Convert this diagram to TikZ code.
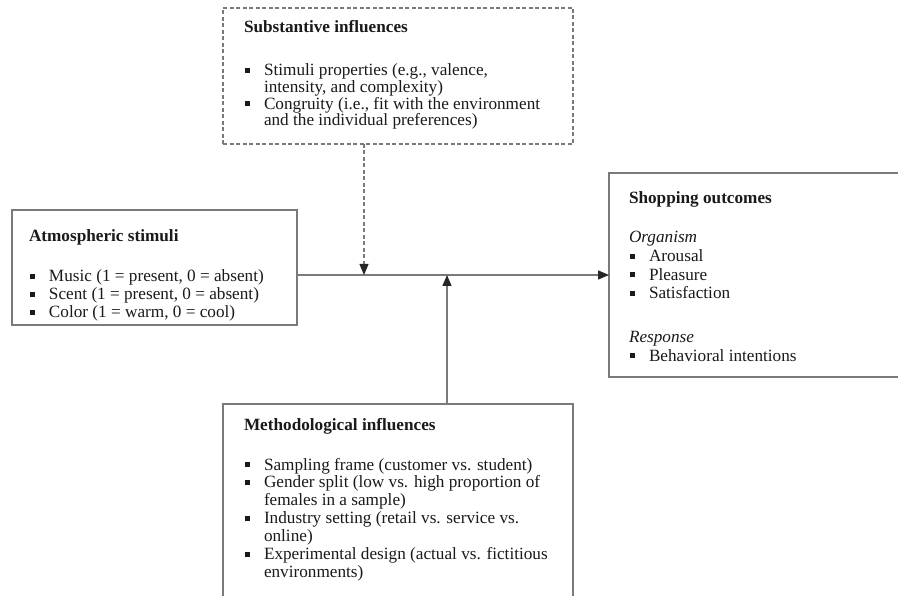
\documentclass[tikz,border=0pt]{standalone}
\usepackage{fontspec}
\setmainfont{Liberation Serif}
\usetikzlibrary{arrows.meta}
\definecolor{linegray}{HTML}{7A7A7A}
\definecolor{txtcol}{HTML}{1A1A1A}
\newcommand{\mybul}[1]{\hbox{\makebox[20pt][l]{\hspace{0.8pt}\rule[2.8pt]{5pt}{5pt}}#1}}
\newcommand{\mycont}[1]{\hbox{\hspace*{20pt}#1}}
\newcommand{\myline}[1]{\hbox{#1}}
\begin{document}
\begin{tikzpicture}[x=1pt,y=-1pt,
  boxstyle/.style={draw=linegray, line width=1.4pt, rectangle, inner sep=0pt, outer sep=0pt},
  dashbox/.style={boxstyle, line width=1.1pt, dash pattern=on 4pt off 2.5pt},
  txtnode/.style={inner sep=0pt, outer sep=0pt, anchor=base west, text=txtcol, font=\fontsize{17.2}{18}\selectfont},
  conn/.style={draw=linegray, line width=1.4pt, -{Triangle[length=11pt,width=9pt,color=black!85]}},
  dconn/.style={conn, line width=1.1pt, dash pattern=on 4pt off 2.5pt}]
\clip (0,0) rectangle (898,596);
\fill[white] (0,0) rectangle (898,596);
% boxes
\node[dashbox, minimum width=350pt, minimum height=136pt] (sub) at (398,76) {};
\node[boxstyle, minimum width=285pt, minimum height=115pt] (atm) at (154.5,267.5) {};
\node[boxstyle, minimum width=311pt, minimum height=204pt] (out) at (764.5,275) {};
\node[boxstyle, minimum width=350pt, minimum height=216pt] (meth) at (398,512) {};
% texts
\node[txtnode, font=\fontsize{17.2}{16.7}\selectfont] (subT) at (244,33) {\vtop{\myline{\bfseries Substantive influences}\vskip 26pt
 \mybul{Stimuli properties (e.g., valence,}\mycont{intensity, and complexity)}
 \mybul{Congruity (i.e., fit with the environment}\mycont{and the individual preferences)}}};
\node[txtnode] (atmT) at (29,242) {\vtop{\myline{\bfseries Atmospheric stimuli}\vskip 22pt
 \mybul{Music (1 = present, 0 = absent)}\mybul{Scent (1 = present, 0 = absent)}\mybul{Color (1 = warm, 0 = cool)}}};
\node[txtnode, font=\fontsize{17.2}{18.7}\selectfont] (outT) at (629,204) {\vtop{\myline{\bfseries Shopping outcomes}\vskip 20pt
 \myline{\itshape Organism}\mybul{Arousal}\mybul{Pleasure}\mybul{Satisfaction}\vskip 25pt
 \myline{\itshape Response}\mybul{Behavioral intentions}}};
\node[txtnode] (methT) at (244,430) {\vtop{\myline{\bfseries Methodological influences}\vskip 22pt
 \mybul{Sampling frame (customer vs. student)}
 \mybul{Gender split (low vs. high proportion of}\mycont{females in a sample)}
 \mybul{Industry setting (retail vs. service vs.}\mycont{online)}
 \mybul{Experimental design (actual vs. fictitious}\mycont{environments)}}};
% connectors
\coordinate (j1) at (364,275);
\coordinate (j2) at (447,275);
\draw[conn] (atm.east |- out.west) -- (out.west);
\draw[dconn] (sub.south -| j1) -- (j1);
\draw[conn] (meth.north -| j2) -- (j2);
\end{tikzpicture}
\end{document}
